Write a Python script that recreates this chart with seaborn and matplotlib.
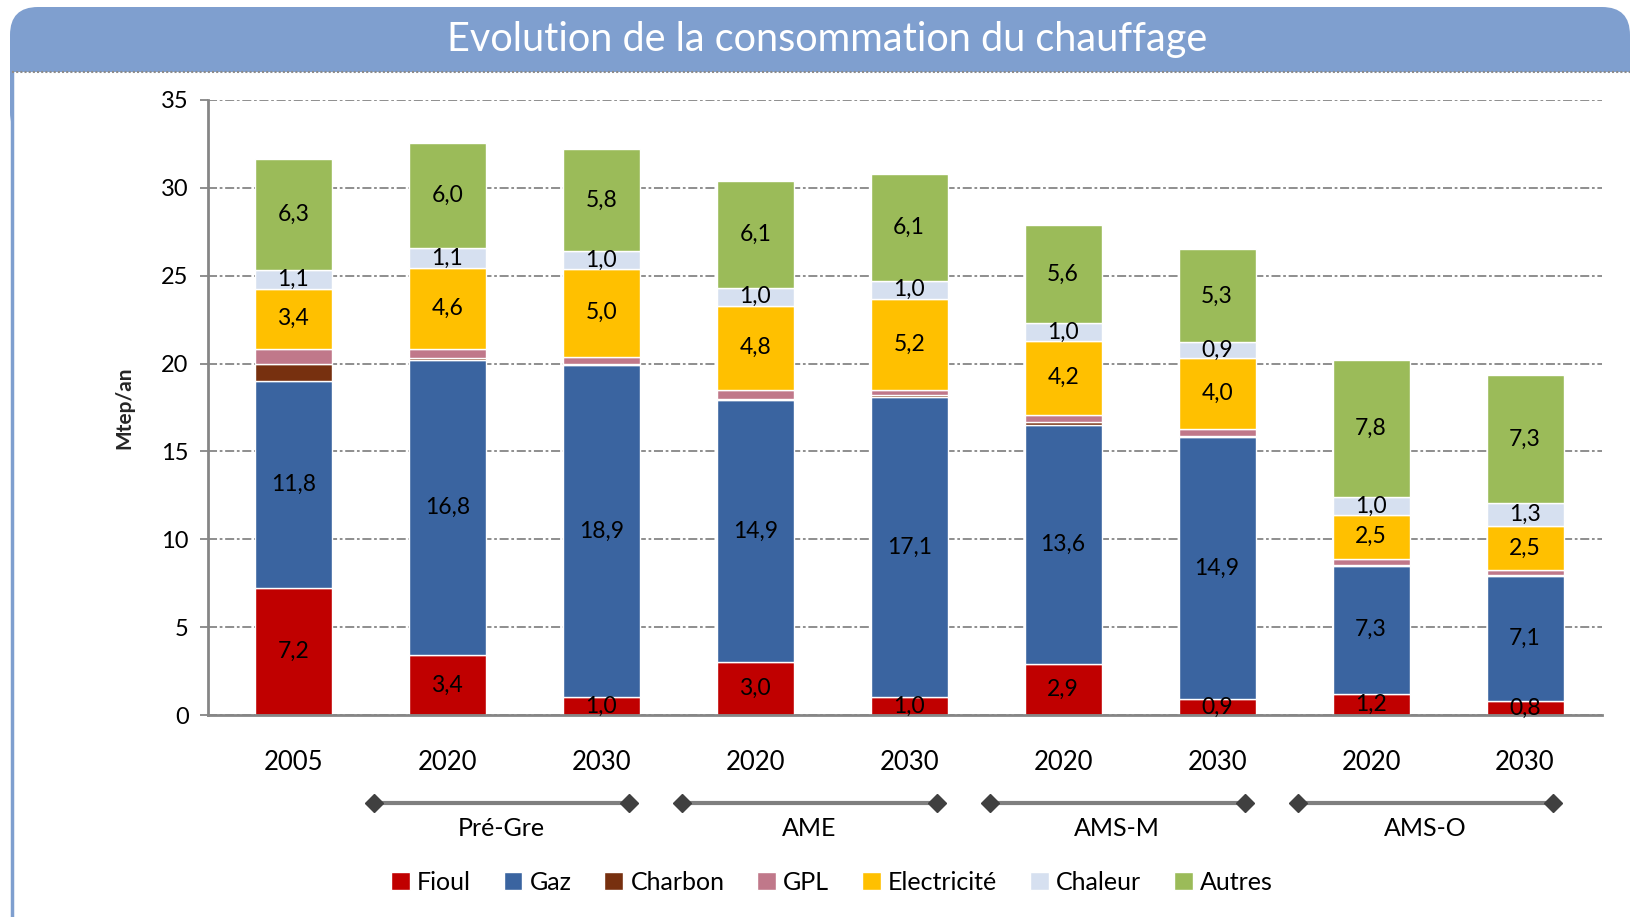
import numpy as np
import matplotlib
matplotlib.use('Agg')
from matplotlib import pyplot as plt
from matplotlib.patches import FancyBboxPatch, Rectangle, Patch
from matplotlib.lines import Line2D
import seaborn as sns

# données (Mtep/an)
barres = ['2005', 'Pré-Gre 2020', 'Pré-Gre 2030', 'AME 2020', 'AME 2030',
          'AMS-M 2020', 'AMS-M 2030', 'AMS-O 2020', 'AMS-O 2030']
annees = ['2005', '2020', '2030', '2020', '2030', '2020', '2030', '2020', '2030']
scenarios = ['Pré-Gre', 'AME', 'AMS-M', 'AMS-O']

fioul = [7.2, 3.4, 1.0, 3.0, 1.0, 2.9, 0.9, 1.2, 0.8]
gaz = [11.8, 16.8, 18.9, 14.9, 17.1, 13.6, 14.9, 7.3, 7.1]
charbon = [1.0, 0.1, 0.1, 0.1, 0.1, 0.15, 0.1, 0.05, 0.05]
gpl = [0.85, 0.55, 0.4, 0.5, 0.3, 0.45, 0.4, 0.35, 0.3]
electricite = [3.4, 4.6, 5.0, 4.8, 5.2, 4.2, 4.0, 2.5, 2.5]
chaleur = [1.1, 1.1, 1.0, 1.0, 1.0, 1.0, 0.9, 1.0, 1.3]
autres = [6.3, 6.0, 5.8, 6.1, 6.1, 5.6, 5.3, 7.8, 7.3]

energies = ['Fioul', 'Gaz', 'Charbon', 'GPL', 'Electricité', 'Chaleur', 'Autres']
series = [fioul, gaz, charbon, gpl, electricite, chaleur, autres]
couleurs = ['#C00000', '#3A64A0', '#77300F', '#C0788A', '#FFC000', '#D6E0F0', '#9BBB59']
etiquettes = [True, True, False, False, True, True, True]  # valeurs affichées ou non

sns.set_theme(style='white')
plt.rcParams['font.family'] = ['Lato', 'DejaVu Sans']
plt.rcParams['text.color'] = 'black'
plt.rcParams['xtick.color'] = 'black'
plt.rcParams['ytick.color'] = 'black'

W, H = 1631, 917
fig = plt.figure(figsize=(W / 100, H / 100), dpi=100)
px = fig.dpi_scale_trans  # coordonnées en pouces (1 px = 0.01 in)

# bandeau du titre (sous les axes)
bleu = '#7F9FCF'
fig.patches.append(FancyBboxPatch((0.10, (H - 140) / 100), 16.20, 1.33,
                                  boxstyle='round,pad=0,rounding_size=0.28',
                                  transform=px, facecolor=bleu, edgecolor='none', zorder=-10))
fig.patches.append(Rectangle((0.14, 0), 16.5, (H - 72) / 100, transform=px,
                             facecolor='white', edgecolor='none', zorder=-9))
fig.lines.append(Line2D([0.12, 0.12], [0, (H - 72) / 100], transform=px,
                        color=bleu, linewidth=2.5, zorder=-8))
fig.lines.append(Line2D([0.12, W / 100], [(H - 72) / 100] * 2, transform=px,
                        color='#8c8c8c', linewidth=1.5, linestyle=(0, (1, 1)), zorder=-8))
fig.text(827 / W, 1 - 40 / H, 'Evolution de la consommation du chauffage',
         color='white', fontsize=28.5, ha='center', va='center')

ax = fig.add_axes([208 / W, 1 - 715 / H, (1602 - 208) / W, (715 - 100) / H])
ax.set_facecolor('none')

bas = np.zeros(len(barres))
for nom, vals, coul, lab in zip(energies, series, couleurs, etiquettes):
    sns.barplot(x=barres, y=vals, color=coul, saturation=1, width=0.5,
                bottom=bas.copy(), errorbar=None, ax=ax)
    if lab:
        ax.bar_label(ax.containers[-1],
                     labels=[f'{v:.1f}'.replace('.', ',') for v in vals],
                     label_type='center', fontsize=16.5, color='black')
    bas += np.array(vals)

ax.set_xlim(-0.554, 8.5)
ax.set_ylim(0, 35)
ax.set_yticks(range(0, 36, 5))
ax.tick_params(axis='y', labelsize=17, length=6, width=1.3, color='#868686', pad=8, left=True)
ax.set_xticks(range(len(barres)))
ax.set_xticklabels(annees)
ax.tick_params(axis='x', labelsize=18.5, length=0, pad=25)
ax.yaxis.grid(True, color='#868686', linestyle=(0, (5, 1.5, 1.5, 1.5)), linewidth=1.3)
ax.set_axisbelow(True)
for s in ['top', 'right']:
    ax.spines[s].set_visible(False)
for s in ['left', 'bottom']:
    ax.spines[s].set_color('#868686')
    ax.spines[s].set_linewidth(2)
ax.set_xlabel('')
ax.set_ylabel('Mtep/an', fontsize=15, fontweight='bold')
ax.yaxis.set_label_coords(-0.053, 0.5)

# accolades des scénarios
tr = ax.get_xaxis_transform()
for i, scen in enumerate(scenarios):
    a = 1 + 2 * i
    x0, x1 = a - 0.476, a + 1 + 0.18
    ax.plot([x0, x1], [-0.143, -0.143], transform=tr, clip_on=False,
            color='#7f7f7f', linewidth=3, marker='D', markersize=9,
            markerfacecolor='#404040', markeredgecolor='#404040')
    ax.text((x0 + x1) / 2, -0.184, scen, transform=tr, ha='center', va='center', fontsize=18)

poignees = [Patch(facecolor=c, label=n) for n, c in zip(energies, couleurs)]
fig.legend(handles=poignees, loc='center', bbox_to_anchor=(832 / W, 1 - 882 / H),
           ncol=7, frameon=False, fontsize=18, handlelength=0.75, handleheight=0.75,
           handletextpad=0.3, columnspacing=1.3)

fig.savefig('out.png', dpi=100)
